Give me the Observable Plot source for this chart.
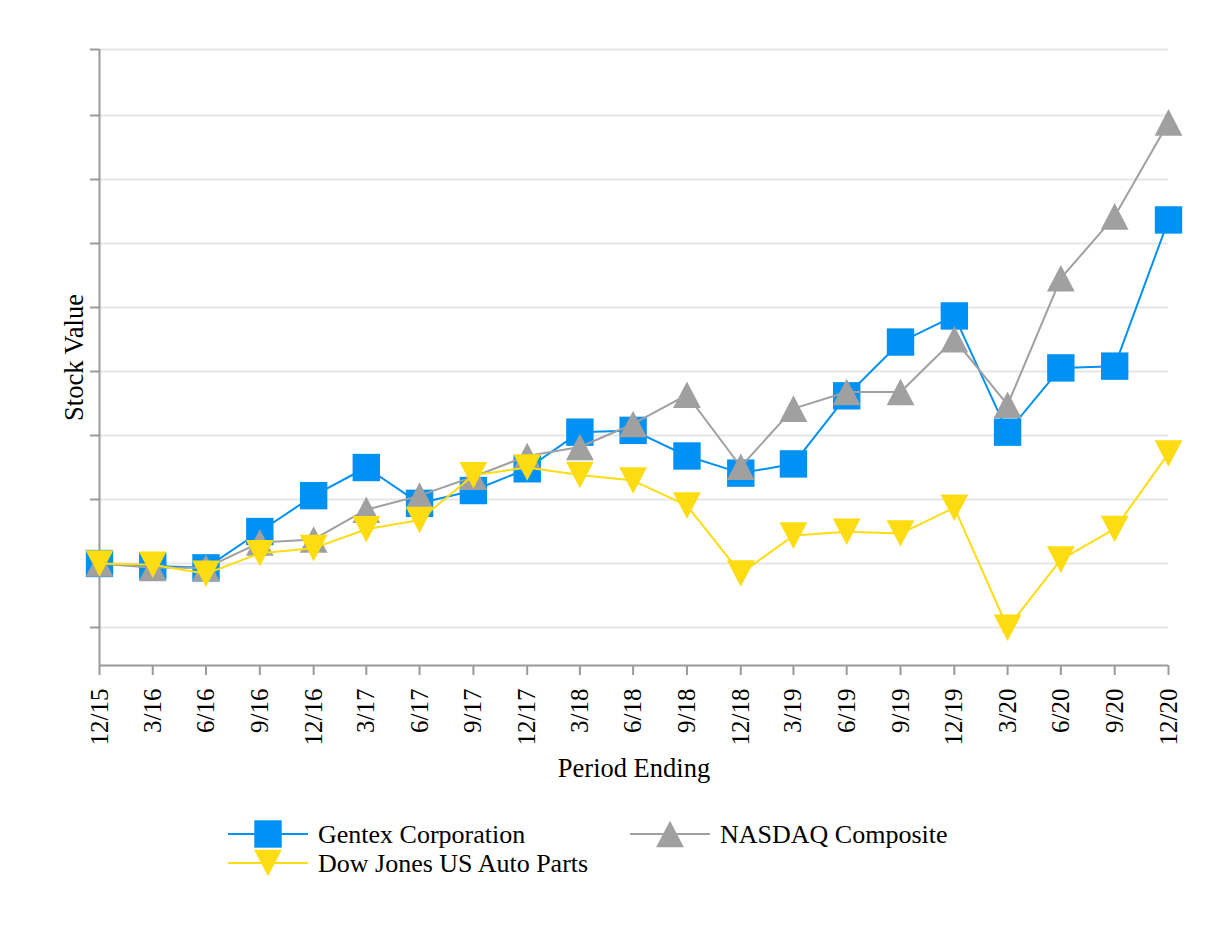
<!DOCTYPE html>
<html>
<head>
<meta charset="utf-8">
<script src="https://cdn.jsdelivr.net/npm/d3@7"></script>
<script src="https://cdn.jsdelivr.net/npm/@observablehq/plot@0.6"></script>
<style>
  html, body { margin: 0; padding: 0; background: #fff; }
  #chart, #legend { display: block; }
  svg { font-family: "Liberation Serif", "Times New Roman", serif; }
</style>
</head>
<body>
<div id="chart"></div>
<div id="legend"></div>
<script>
// ---- data ----
const periods = ["12/15","3/16","6/16","9/16","12/16","3/17","6/17","9/17","12/17","3/18","6/18",
                 "9/18","12/18","3/19","6/19","9/19","12/19","3/20","6/20","9/20","12/20"];
const gentex = [100, 99, 98.3, 112.5, 126.5, 137.5, 123.5, 128.5, 137, 151.3, 152,
                142, 135.3, 138.9, 165.5, 186.5, 196.7, 151.3, 176.4, 177.1, 234.2];
const nasdaq = [100, 98.3, 98.3, 108.2, 109.4, 121, 126.5, 133.9, 142, 145.5, 154.5,
                165.9, 137.8, 160.5, 167, 167, 187.6, 162, 211.4, 235.6, 272.3];
const dowAuto = [100, 99.5, 96, 104, 106, 113.4, 117, 134.5, 137.5, 134.6, 132.4,
                 122.6, 96.1, 110.9, 112.4, 111.7, 121.8, 74.9, 101.5, 113.5, 143];
const seriesNames = ["Gentex Corporation", "NASDAQ Composite", "Dow Jones US Auto Parts"];
const seriesColors = ["#0091f5", "#a0a0a0", "#fddc12"];
const yGridValues = [75, 100, 125, 150, 175, 200, 225, 250, 275, 300.78];
const yDomain = [60.16, 300.78];

// period label "m/yy" -> last day of that month (UTC)
const dates = periods.map(p => {
  const [m, y] = p.split("/").map(Number);
  return new Date(Date.UTC(2000 + y, m, 0));
});
const labelOf = new Map(dates.map((d, i) => [+d, periods[i]]));

const rows = [];
[gentex, nasdaq, dowAuto].forEach((vals, s) => {
  vals.forEach((v, i) => rows.push({series: seriesNames[s], date: dates[i], value: v}));
});

// custom marker shapes (bounding-box centred)
const square = {draw(ctx) { const h = 13.7; ctx.moveTo(-h, -h); ctx.lineTo(h, -h); ctx.lineTo(h, h); ctx.lineTo(-h, h); ctx.closePath(); }};
const triUp = {draw(ctx) { const w = 13.9, h = 13.3; ctx.moveTo(0, -h); ctx.lineTo(w, h); ctx.lineTo(-w, h); ctx.closePath(); }};
const triDown = {draw(ctx) { const w = 13.9, h = 13.3; ctx.moveTo(0, h); ctx.lineTo(w, -h); ctx.lineTo(-w, -h); ctx.closePath(); }};
const symbols = [square, triUp, triDown];

const axisColor = "#9a9a9a";

const seriesMarks = seriesNames.flatMap((name, s) => {
  const data = rows.filter(r => r.series === name);
  return [
    Plot.line(data, {x: "date", y: "value", stroke: seriesColors[s], strokeWidth: 2}),
    Plot.dot(data, {x: "date", y: "value", symbol: symbols[s], fill: seriesColors[s], stroke: "none", r: 10})
  ];
});

const chart = Plot.plot({
  width: 1218,
  height: 800,
  marginLeft: 99,
  marginRight: 50,
  marginTop: 49,
  marginBottom: 135,
  style: {fontFamily: "'Liberation Serif', 'Times New Roman', serif", background: "#fff", color: "#000"},
  x: {type: "utc", domain: [dates[0], dates[dates.length - 1]], label: null},
  y: {domain: yDomain, label: null},
  marks: [
    Plot.ruleY(yGridValues, {stroke: "#e6e6e6", strokeWidth: 2}),
    Plot.axisY({ticks: yGridValues, tickFormat: () => "", tickSize: 9, stroke: axisColor, strokeWidth: 2, label: null}),
    Plot.axisX({ticks: dates, tickFormat: d => labelOf.get(+d), tickRotate: -90, tickSize: 10,
                tickPadding: 13, fontSize: 25, stroke: axisColor, strokeWidth: 2, fill: "#000", label: null}),
    Plot.ruleX([dates[0]], {stroke: axisColor, strokeWidth: 2}),
    Plot.ruleY([yDomain[0]], {stroke: axisColor, strokeWidth: 2}),
    Plot.text(["Stock Value"], {frameAnchor: "left", rotate: -90, dx: -17, lineAnchor: "bottom",
                                textAnchor: "middle", fontSize: 26.5, fill: "#000"}),
    Plot.text(["Period Ending"], {frameAnchor: "bottom", dy: 111, lineAnchor: "bottom",
                                  textAnchor: "middle", fontSize: 26.5, fill: "#000"}),
    ...seriesMarks
  ]
});
document.getElementById("chart").append(chart);

// ---- legend below the chart ----
const legendItems = [
  {name: seriesNames[0], color: seriesColors[0], symbol: square, x: 228, y: 34},
  {name: seriesNames[1], color: seriesColors[1], symbol: triUp, x: 630, y: 34},
  {name: seriesNames[2], color: seriesColors[2], symbol: triDown, x: 228, y: 63}
];
const lsvg = d3.create("svg").attr("width", 1218).attr("height", 136)
  .attr("font-family", "'Liberation Serif', 'Times New Roman', serif");
for (const it of legendItems) {
  const g = lsvg.append("g").attr("transform", `translate(${it.x},${it.y})`);
  g.append("line").attr("x1", 0).attr("x2", 80).attr("y1", 0).attr("y2", 0)
    .attr("stroke", it.color).attr("stroke-width", 2);
  g.append("path").attr("transform", "translate(40,0)")
    .attr("d", d3.symbol().type(it.symbol)()).attr("fill", it.color);
  g.append("text").attr("x", 90).attr("y", 0).attr("dy", "0.36em")
    .attr("font-size", 26).attr("fill", "#000").text(it.name);
}
document.getElementById("legend").append(lsvg.node());
</script>
</body>
</html>
